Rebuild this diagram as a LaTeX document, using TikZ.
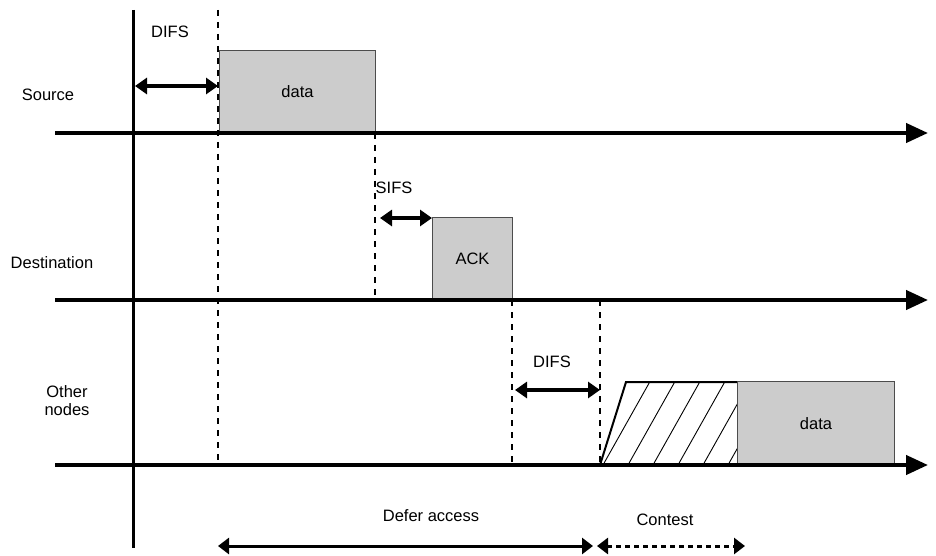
\documentclass[tikz,border=0pt]{standalone}
\usepackage{fontspec}
\setmainfont{Liberation Sans}
\usetikzlibrary{arrows.meta}

\tikzset{
  timeline/.style={line width=4.2pt, -{Triangle[length=22pt,width=19pt]}},
  axisline/.style={line width=3pt},
  guide/.style={line width=2.3pt, dash pattern=on 6pt off 6pt},
  span/.style={line width=4.5pt, {Triangle[length=12pt,width=16pt]}-{Triangle[length=12pt,width=16pt]}},
  period/.style={line width=3pt, {Triangle[length=11pt,width=16pt]}-{Triangle[length=11pt,width=16pt]}},
  frame/.style={draw=black!70, line width=1pt, fill=black!20, inner sep=0pt, anchor=north west},
  lbl/.style={font=\fontsize{16.5}{19}\selectfont, inner sep=0pt, align=center},
}

\begin{document}
\begin{tikzpicture}[x=1pt, y=-1pt]
\useasboundingbox (0,0) rectangle (936,556);

% time axis and timelines
\coordinate (ax0) at (133,10);
\coordinate (ax1) at (133,548);
\draw[axisline] (ax0) -- (ax1);

\coordinate (s0) at (55,133);  \coordinate (s1) at (928,133);
\coordinate (d0) at (55,300);  \coordinate (d1) at (928,300);
\coordinate (o0) at (55,465);  \coordinate (o1) at (928,465);

% contention window (hatched)
\coordinate (cw1) at (600,465);
\coordinate (cw2) at (626,382);
\coordinate (cw3) at (737,382);
\coordinate (cw4) at (737,465);
\begin{scope}
  \clip (cw1) -- (cw2) -- (cw3) -- (cw4) -- cycle;
  \foreach \x in {528,553,...,728}
    \draw[line width=0.9pt] (\x,465) -- ++(46.7,-83);
\end{scope}
\draw[line width=2pt, line join=miter] (cw1) -- (cw2) -- (cw3);

% frames
\node[frame, minimum width=156pt, minimum height=83pt] (data1) at (219,50) {};
\node[lbl] at (data1.center) {data};
\node[frame, minimum width=80pt, minimum height=83pt] (ack) at (432,217) {};
\node[lbl] at (ack.center) {ACK};
\node[frame, minimum width=157pt, minimum height=84pt] (data2) at (737,381) {};
\node[lbl] at (data2.center) {data};

\draw[timeline] (s0) -- (s1);
\draw[timeline] (d0) -- (d1);
\draw[timeline] (o0) -- (o1);

% dashed guides
\coordinate (g1a) at (218,10);   \coordinate (g1b) at (218,465);
\coordinate (g2a) at (375,133);  \coordinate (g2b) at (375,300);
\coordinate (g3a) at (512,300);  \coordinate (g3b) at (512,465);
\coordinate (g4a) at (600,300);  \coordinate (g4b) at (600,465);
\draw[guide] (g1a) -- (g1b);
\draw[guide] (g2a) -- (g2b);
\draw[guide] (g3a) -- (g3b);
\draw[guide] (g4a) -- (g4b);

% station names
\node[lbl] (src) at (48,95) {Source};
\node[lbl] (dst) at (52,263) {Destination};
\node[lbl] (oth) at (67,401) {Other\\[-1pt]nodes};

% interframe spaces
\coordinate (difs1a) at (135,86);  \coordinate (difs1b) at (218,86);
\draw[span] (difs1a) -- (difs1b);
\node[lbl] (difs1) at (170,32) {DIFS};

\coordinate (sifsa) at (380,218);  \coordinate (sifsb) at (432,218);
\draw[span] (sifsa) -- (sifsb);
\node[lbl] (sifs) at (394,188) {SIFS};

\coordinate (difs2a) at (515,390);  \coordinate (difs2b) at (600,390);
\draw[span] (difs2a) -- (difs2b);
\node[lbl] (difs2) at (552,362) {DIFS};

% periods
\coordinate (defa) at (218,546);  \coordinate (defb) at (593,546);
\draw[period] (defa) -- (defb);
\node[lbl] (defer) at (431,516) {Defer access};

\coordinate (cona) at (597,546);  \coordinate (conb) at (745,546);
\draw[period, dash pattern=on 5pt off 4pt] (cona) -- (conb);
\node[lbl] (contest) at (665,520) {Contest};
\end{tikzpicture}
\end{document}
